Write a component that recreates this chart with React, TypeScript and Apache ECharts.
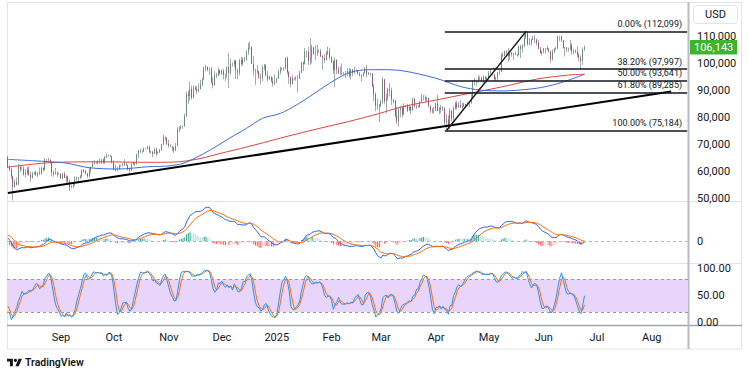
import React, { useEffect, useRef } from 'react';
import * as echarts from 'echarts';

const FONT = 'Roboto, "Noto Sans", "DejaVu Sans", sans-serif';
const TEXT = '#131722';
const START_DATE = '2024-08-02';
const CATEGORY_COUNT = 385;
const MONTHS = ['Jan', 'Feb', 'Mar', 'Apr', 'May', 'Jun', 'Jul', 'Aug', 'Sep', 'Oct', 'Nov', 'Dec'];

// Prices in thousand USD. Warm-up days (Jul 19 - Aug 1 2024) only feed the indicators.
const warmClose = [66.7, 67.2, 68.2, 67.6, 65.9, 65.4, 65.8, 68.0, 67.9, 68.3, 66.8, 66.2, 64.6, 65.4];
const warmHigh = [67.4, 67.7, 68.4, 68.5, 67.8, 67.1, 66.1, 68.2, 69.4, 68.3, 70.0, 66.9, 66.8, 65.6];
const warmLow = [63.3, 66.6, 65.8, 66.6, 65.5, 65.1, 63.5, 65.8, 66.8, 67.0, 66.6, 65.4, 64.5, 62.3];

// Daily candles from 2024-08-02 to 2025-06-24 (open = previous close)
const closeK = [
  // Aug
  61.4, 60.7, 58.1, 54.0, 56.0, 55.0, 61.7, 60.9, 60.9, 58.7, 59.4, 60.6, 58.7, 57.6, 58.9, 59.5, 58.5, 59.5, 59.0, 61.2, 60.4, 64.1, 64.2, 64.3, 62.9, 59.5, 59.0, 59.4, 59.1, 59.0,
  // Sep
  57.3, 59.1, 57.5, 58.0, 56.2, 54.0, 54.2, 54.9, 57.0, 57.7, 57.3, 58.1, 60.6, 60.0, 59.2, 58.2, 60.3, 61.6, 62.9, 63.2, 63.3, 63.6, 63.3, 64.3, 63.2, 65.2, 65.8, 65.9, 65.6, 63.3,
  // Oct
  60.8, 60.6, 60.8, 62.1, 62.1, 62.8, 62.2, 62.2, 60.6, 60.3, 62.5, 63.2, 62.9, 66.1, 67.6, 67.4, 67.4, 68.4, 68.4, 69.0, 67.4, 67.4, 66.4, 68.2, 66.6, 67.0, 67.9, 69.9, 72.7, 72.3, 70.2,
  // Nov
  69.5, 69.3, 68.7, 67.8, 69.4, 75.6, 75.9, 76.5, 76.8, 80.5, 88.7, 88.0, 90.6, 87.3, 91.1, 90.6, 89.8, 90.5, 92.3, 94.3, 98.3, 98.9, 97.7, 97.9, 93.0, 92.0, 95.9, 95.6, 97.5, 96.4,
  // Dec
  97.3, 95.9, 96.0, 98.8, 96.6, 99.9, 99.9, 101.2, 97.4, 96.7, 101.2, 100.0, 101.5, 101.4, 104.3, 106.0, 106.1, 100.0, 97.5, 97.8, 97.2, 95.1, 94.7, 98.7, 99.3, 95.8, 94.2, 95.2, 93.5, 92.6, 93.4,
  // Jan
  94.4, 96.9, 98.1, 98.2, 98.3, 102.1, 96.9, 95.0, 92.5, 94.7, 94.6, 94.5, 94.5, 96.5, 100.5, 99.8, 104.5, 104.4, 101.1, 102.0, 106.1, 103.7, 104.0, 104.8, 104.7, 102.7, 102.1, 101.3, 103.7, 104.7, 102.4,
  // Feb
  100.7, 97.7, 101.4, 97.9, 96.6, 96.6, 96.5, 96.5, 96.5, 97.4, 95.7, 97.9, 96.6, 97.5, 97.6, 96.2, 95.8, 95.5, 96.6, 98.3, 96.1, 96.6, 96.3, 91.4, 88.7, 84.3, 84.7, 84.4,
  // Mar
  86.0, 94.2, 86.1, 87.2, 90.6, 90.0, 86.7, 86.2, 80.6, 78.5, 82.9, 83.7, 81.1, 84.0, 84.3, 82.6, 84.1, 82.7, 86.9, 84.2, 84.0, 83.8, 86.1, 87.5, 87.5, 86.9, 87.2, 84.4, 82.6, 82.3, 82.5,
  // Apr
  85.2, 82.5, 83.1, 83.8, 83.5, 78.2, 79.2, 76.3, 82.6, 79.6, 83.4, 85.3, 83.7, 84.5, 83.7, 84.0, 84.9, 84.5, 85.1, 85.2, 87.5, 93.4, 93.7, 93.9, 94.7, 94.6, 93.8, 95.0, 94.3, 94.2,
  // May
  96.5, 96.9, 95.9, 94.3, 94.7, 96.8, 97.0, 103.2, 103.0, 104.7, 104.1, 102.8, 104.2, 103.5, 103.7, 103.5, 103.2, 106.4, 105.6, 106.8, 109.7, 111.7, 107.3, 107.8, 109.0, 109.4, 109.0, 107.8, 105.6, 104.0, 104.6,
  // Jun
  105.7, 105.9, 105.4, 104.7, 101.6, 104.4, 105.6, 105.8, 110.3, 110.3, 108.7, 105.9, 106.1, 105.5, 105.6, 106.8, 104.6, 104.9, 104.6, 103.3, 102.3, 101.0, 105.4, 106.143,
];
const highK = [
  65.6, 62.2, 61.1, 58.3, 57.0, 57.7, 62.7, 61.8, 61.5, 61.8, 60.7, 61.6, 61.8, 59.8, 59.8, 59.7, 60.2, 59.6, 61.4, 61.8, 61.4, 64.9, 64.5, 65.0, 64.4, 63.2, 60.2, 61.2, 59.9, 59.4,
  59.1, 59.4, 59.8, 58.5, 58.3, 56.9, 54.8, 55.3, 58.1, 58.0, 57.9, 58.6, 60.6, 60.6, 60.4, 59.2, 61.3, 61.8, 63.9, 64.1, 63.6, 64.0, 64.7, 64.6, 64.8, 65.8, 66.5, 66.3, 66.0, 65.6,
  64.1, 62.4, 61.5, 62.5, 62.4, 62.9, 64.5, 63.2, 62.5, 61.3, 63.4, 63.5, 63.3, 66.5, 67.9, 68.4, 67.9, 68.9, 68.7, 69.4, 69.5, 67.8, 67.4, 68.8, 68.8, 67.3, 68.3, 70.2, 73.6, 72.9, 72.7,
  71.6, 70.0, 69.4, 69.0, 70.5, 76.4, 76.8, 77.2, 76.9, 81.5, 89.6, 89.9, 93.4, 91.8, 91.9, 91.8, 91.7, 92.6, 94.0, 94.9, 99.0, 99.6, 98.8, 98.6, 98.8, 94.9, 97.4, 96.6, 98.7, 97.9,
  97.9, 98.2, 96.3, 99.0, 104.1, 101.9, 100.5, 101.4, 101.3, 98.3, 101.9, 102.5, 102.5, 102.6, 105.1, 107.8, 108.3, 106.5, 102.8, 98.1, 99.5, 97.3, 96.4, 99.4, 99.9, 99.9, 97.3, 95.5, 95.2, 94.9, 96.1,
  94.9, 97.8, 98.9, 98.7, 98.8, 102.5, 102.7, 97.3, 95.3, 95.8, 94.9, 95.4, 95.8, 97.4, 100.7, 100.8, 105.9, 104.9, 106.3, 109.6, 107.1, 106.3, 106.8, 107.1, 105.3, 105.5, 103.2, 103.7, 104.8, 106.4, 106.0,
  102.8, 101.4, 102.4, 101.7, 99.0, 99.0, 100.1, 96.9, 97.3, 98.3, 98.5, 98.1, 98.0, 98.8, 97.9, 97.7, 97.0, 96.0, 96.9, 98.7, 99.5, 96.9, 96.5, 96.5, 92.5, 89.3, 87.0, 85.0,
  86.5, 95.0, 94.4, 88.9, 91.0, 92.8, 91.2, 86.8, 86.5, 83.9, 83.6, 84.3, 84.3, 85.3, 84.7, 85.1, 84.7, 84.1, 87.4, 87.4, 84.8, 84.5, 86.1, 88.7, 88.4, 88.3, 87.7, 87.4, 84.5, 83.5, 83.9,
  85.5, 88.5, 83.9, 84.7, 84.2, 83.8, 81.2, 80.8, 83.5, 82.7, 84.2, 85.9, 86.1, 85.8, 86.4, 85.5, 85.5, 85.1, 85.6, 85.3, 88.9, 93.9, 94.7, 94.0, 95.8, 95.3, 95.2, 95.6, 95.5, 95.2,
  97.4, 97.9, 96.9, 96.3, 95.2, 96.9, 97.7, 104.0, 104.3, 104.9, 104.9, 105.8, 104.9, 104.3, 104.1, 104.5, 103.7, 106.7, 107.1, 107.3, 110.8, 112.099, 111.9, 109.5, 109.3, 110.4, 110.7, 109.3, 108.9, 106.3, 104.9,
  105.9, 105.9, 106.8, 105.9, 105.0, 105.4, 105.9, 106.4, 110.5, 110.4, 110.4, 108.8, 106.2, 106.2, 106.0, 108.9, 107.7, 105.5, 105.3, 106.5, 104.0, 103.1, 106.1, 106.8,
];
const lowK = [
  61.2, 59.9, 57.2, 49.1, 53.9, 54.6, 54.8, 59.6, 60.3, 58.4, 57.7, 58.5, 58.4, 56.1, 57.2, 58.8, 58.4, 57.8, 58.6, 58.8, 59.8, 60.4, 63.6, 63.8, 62.8, 58.1, 57.9, 58.8, 57.8, 58.7,
  57.2, 57.1, 57.4, 55.6, 55.7, 52.6, 53.7, 53.7, 54.6, 56.4, 55.5, 57.3, 57.6, 59.4, 58.7, 57.5, 57.6, 59.2, 61.6, 62.4, 62.8, 62.4, 62.7, 62.7, 62.8, 62.7, 64.9, 65.4, 65.4, 62.9,
  60.3, 59.9, 59.9, 60.5, 61.7, 61.8, 62.1, 61.9, 60.3, 58.9, 60.1, 62.4, 61.9, 62.4, 64.8, 66.8, 66.7, 67.2, 68.1, 68.1, 66.7, 66.6, 65.2, 66.4, 65.5, 66.5, 66.8, 67.6, 69.7, 71.4, 69.7,
  68.8, 69.0, 67.5, 66.8, 67.5, 69.3, 74.5, 75.6, 75.8, 76.5, 80.2, 85.1, 86.3, 86.7, 87.1, 90.1, 88.7, 89.4, 90.9, 91.6, 94.0, 97.2, 97.2, 95.8, 92.7, 90.8, 91.8, 94.6, 95.4, 96.1,
  95.7, 94.2, 93.6, 94.7, 91.0, 95.9, 99.0, 98.7, 94.3, 94.2, 95.7, 99.3, 99.2, 100.6, 101.2, 103.3, 105.3, 100.0, 95.6, 92.2, 96.4, 94.2, 92.4, 93.4, 97.6, 95.2, 93.5, 94.0, 93.1, 91.4, 92.0,
  92.8, 94.3, 96.1, 97.6, 97.3, 97.9, 96.1, 92.5, 91.2, 92.2, 93.8, 93.7, 89.3, 94.3, 96.5, 97.3, 99.9, 102.3, 99.5, 99.6, 100.1, 103.3, 101.3, 102.8, 104.1, 102.5, 97.8, 100.3, 101.3, 103.3, 101.6,
  100.3, 96.2, 91.2, 96.2, 96.2, 95.7, 95.7, 95.7, 94.7, 95.3, 94.8, 94.1, 95.3, 96.3, 97.2, 96.0, 95.2, 93.4, 95.2, 96.4, 94.9, 95.8, 95.3, 91.3, 86.1, 82.3, 82.8, 78.3,
  83.8, 85.1, 85.1, 81.5, 86.3, 87.9, 84.7, 85.3, 80.0, 77.5, 76.6, 80.1, 79.9, 80.8, 83.7, 82.0, 82.5, 81.2, 82.5, 83.7, 83.2, 83.7, 83.8, 85.6, 86.3, 85.9, 85.8, 83.6, 81.6, 81.6, 81.3,
  82.4, 82.3, 81.2, 81.7, 82.4, 77.2, 75.184, 76.2, 75.6, 78.5, 78.9, 82.9, 83.0, 83.8, 83.6, 83.1, 83.9, 84.1, 84.3, 83.9, 85.2, 87.5, 91.9, 91.7, 92.9, 93.9, 93.6, 92.9, 93.9, 92.9,
  94.1, 96.2, 95.7, 94.0, 93.5, 93.4, 95.8, 96.9, 102.3, 102.8, 103.4, 100.8, 101.4, 102.6, 101.4, 103.1, 102.6, 103.1, 102.1, 104.2, 106.1, 109.3, 106.8, 106.9, 106.7, 108.8, 107.6, 106.8, 105.3, 103.7, 103.1,
  103.9, 103.7, 105.0, 104.2, 100.4, 101.1, 103.9, 105.1, 105.3, 108.4, 108.1, 105.7, 102.7, 104.3, 104.5, 104.9, 103.4, 103.6, 103.9, 102.4, 100.8, 98.0, 99.6, 104.7,
];

// Moving averages (thousand USD)
const sma100Dates = ['2024-08-02', '2024-08-16', '2024-08-26', '2024-09-04', '2024-09-17', '2024-10-03', '2024-10-21', '2024-10-31', '2024-11-09', '2024-11-18', '2024-11-26', '2024-12-05', '2024-12-15', '2024-12-24', '2025-01-03', '2025-01-12', '2025-01-21', '2025-01-31', '2025-02-10', '2025-02-19', '2025-02-28', '2025-03-13', '2025-04-01', '2025-04-15', '2025-04-26', '2025-05-09', '2025-05-18', '2025-05-28', '2025-06-06', '2025-06-15', '2025-06-24'];
const sma100Values = [64.4, 63.9, 63.5, 63.0, 61.3, 60.8, 61.7, 61.9, 62.9, 65.6, 68.5, 72.2, 76.0, 79.7, 81.5, 84.6, 88.4, 92.8, 96.4, 97.7, 97.8, 97.4, 94.6, 91.5, 90.2, 89.9, 90.2, 90.9, 92.1, 93.9, 96.1];
const sma200Dates = ['2024-08-02', '2024-08-26', '2024-09-23', '2024-10-21', '2024-11-04', '2024-11-18', '2024-11-30', '2024-12-15', '2025-01-03', '2025-01-21', '2025-02-10', '2025-02-28', '2025-03-13', '2025-04-01', '2025-04-20', '2025-05-09', '2025-05-28', '2025-06-15', '2025-06-24'];
const sma200Values = [61.5, 63.2, 63.5, 63.3, 63.4, 64.6, 66.6, 69.0, 72.3, 75.3, 78.4, 81.5, 84.0, 86.5, 89.0, 91.5, 94.3, 95.8, 96.1];

// Drawings
const fibStartDate = '2025-04-06';
const fibEndDate = '2025-08-21';
const fibPercents = ['0.00%', '38.20%', '50.00%', '61.80%', '100.00%'];
const fibValues = [112099, 97997, 93641, 89285, 75184];
const longTrendDates = ['2024-08-02', '2025-08-12'];
const longTrendValues = [51860, 89660];
const swingTrendDates = ['2025-04-07', '2025-05-22'];
const swingTrendValues = [75184, 112099];

// Axis ticks
const priceTicks = [50000, 60000, 70000, 80000, 90000, 100000, 110000];
const macdTicks = [0];
const stochTicks = [0, 50, 100];
const stochBands = [20, 80];

// Indicator seeds (state before the warm-up window)
const EMA12_SEED = 62800;
const EMA26_SEED = 61700;
const SIGNAL_SEED = 600;

const PRICE_MIN = 48900;
const PRICE_MAX = 123000;
const STOCH_MIN = -3.9;
const STOCH_MAX = 110;

const dates: string[] = (() => {
  const out: string[] = [];
  const t0 = Date.parse(START_DATE + 'T00:00:00Z');
  for (let i = 0; i < CATEGORY_COUNT; i++) out.push(new Date(t0 + i * 86400000).toISOString().slice(0, 10));
  return out;
})();
const idx = (d: string) => dates.indexOf(d);
const fmt = (v: number) => Math.round(v).toLocaleString('en-US');

let logoRegistered = false;
function registerLogo() {
  if (logoRegistered) return;
  echarts.graphic.registerShape(
    'tvlogo',
    echarts.graphic.extendPath('M14 22H7V11H0V4h14v18zM28 22h-8l7.5-18h8L28 22z', {}) as any
  );
  logoRegistered = true;
}

function buildOption() {
  const n = closeK.length;
  const candles = closeK.map((c, i) => {
    const o = (i === 0 ? warmClose[warmClose.length - 1] : closeK[i - 1]) * 1000;
    const cl = c * 1000;
    const h = Math.max(highK[i] * 1000, o, cl);
    const l = Math.min(lowK[i] * 1000, o, cl);
    return { o, c: cl, h, l };
  });
  const wickData = candles.map((k) => [k.o, k.c, k.l, k.h]);
  const bodyData = candles.map((k) => [k.o, k.c, Math.min(k.o, k.c), Math.max(k.o, k.c)]);

  const W = warmClose.length;
  const allClose = [...warmClose, ...closeK].map((v) => v * 1000);
  const allHigh = [...warmHigh.map((v) => v * 1000), ...candles.map((k) => k.h)];
  const allLow = [...warmLow.map((v) => v * 1000), ...candles.map((k) => k.l)];

  const ema = (vals: number[], len: number, seed: number) => {
    const k = 2 / (len + 1);
    let e = seed;
    return vals.map((v) => (e = v * k + e * (1 - k)));
  };
  const e12 = ema(allClose, 12, EMA12_SEED);
  const e26 = ema(allClose, 26, EMA26_SEED);
  const macdAll = e12.map((v, i) => v - e26[i]);
  const sigAll = ema(macdAll, 9, SIGNAL_SEED);
  const macd = macdAll.slice(W);
  const signal = sigAll.slice(W);
  const hist = macd.map((v, i) => v - signal[i]);
  const histData = hist.map((h, i) => {
    const prev = i > 0 ? hist[i - 1] : h;
    const color = h >= 0 ? (h >= prev ? '#26a69a' : '#b2dfdb') : h < prev ? '#ff5252' : '#ffcdd2';
    return { value: h, itemStyle: { color } };
  });
  const mMax = Math.max(...macd, ...signal);
  const macdMax = (mMax * 40.3) / 34;
  const macdMin = (-mMax * 21.7) / 34;

  const rawK = allClose.map((c, i) => {
    let hh = -Infinity;
    let ll = Infinity;
    for (let j = Math.max(0, i - 13); j <= i; j++) {
      hh = Math.max(hh, allHigh[j]);
      ll = Math.min(ll, allLow[j]);
    }
    return hh === ll ? 50 : (100 * (c - ll)) / (hh - ll);
  });
  const sma = (arr: number[], len: number) =>
    arr.map((_, i) => {
      const s = Math.max(0, i - len + 1);
      let sum = 0;
      for (let j = s; j <= i; j++) sum += arr[j];
      return sum / (i - s + 1);
    });
  const kAll = sma(rawK, 3);
  const dAll = sma(kAll, 3);
  const stochK = kAll.slice(W);
  const stochD = dAll.slice(W);

  const lastClose = candles[n - 1].c;

  const xAxisBase = {
    type: 'category' as const,
    data: dates,
    boundaryGap: true,
    axisLine: { show: false },
    axisTick: { show: false },
    splitLine: { show: false },
  };
  const yLabel = { color: TEXT, fontSize: 11, fontFamily: FONT, margin: 9 };

  return {
    animation: false,
    backgroundColor: '#ffffff',
    textStyle: { fontFamily: FONT },
    grid: [
      { left: 7, top: 2, width: 681, height: 199 },
      { left: 7, top: 201, width: 681, height: 62 },
      { left: 7, top: 263, width: 681, height: 62 },
    ],
    xAxis: [
      { ...xAxisBase, gridIndex: 0, axisLabel: { show: false } },
      { ...xAxisBase, gridIndex: 1, axisLabel: { show: false } },
      {
        ...xAxisBase,
        gridIndex: 2,
        axisLabel: {
          show: true,
          interval: (_i: number, v: string) => v.endsWith('-01'),
          formatter: (v: string) => {
            const [y, m] = v.split('-');
            return m === '01' ? y : MONTHS[Number(m) - 1];
          },
          color: TEXT,
          fontSize: 11,
          fontFamily: FONT,
          margin: 7,
          hideOverlap: false,
        },
      },
    ],
    yAxis: [
      {
        type: 'value', gridIndex: 0, position: 'right', min: PRICE_MIN, max: PRICE_MAX,
        splitLine: { show: false }, axisLine: { show: false }, axisTick: { show: false },
        axisLabel: { ...yLabel, customValues: priceTicks, formatter: (v: number) => fmt(v) },
      },
      {
        type: 'value', gridIndex: 1, position: 'right', min: macdMin, max: macdMax,
        splitLine: { show: false }, axisLine: { show: false }, axisTick: { show: false },
        axisLabel: { ...yLabel, customValues: macdTicks, formatter: (v: number) => String(Math.round(v)) },
      },
      {
        type: 'value', gridIndex: 2, position: 'right', min: STOCH_MIN, max: STOCH_MAX,
        splitLine: { show: false }, axisLine: { show: false }, axisTick: { show: false },
        axisLabel: { ...yLabel, customValues: stochTicks, formatter: (v: number) => v.toFixed(2) },
      },
    ],
    series: [
      {
        name: 'SMA 200', type: 'line', xAxisIndex: 0, yAxisIndex: 0, symbol: 'none', smooth: 0.3,
        lineStyle: { color: '#e0443e', width: 1 },
        data: sma200Dates.map((d, i) => [idx(d), sma200Values[i] * 1000]),
      },
      {
        name: 'SMA 100', type: 'line', xAxisIndex: 0, yAxisIndex: 0, symbol: 'none', smooth: 0.3,
        lineStyle: { color: '#3d6be0', width: 1 },
        data: sma100Dates.map((d, i) => [idx(d), sma100Values[i] * 1000]),
      },
      {
        name: 'wicks', type: 'candlestick', xAxisIndex: 0, yAxisIndex: 0, barWidth: 1,
        itemStyle: { color: '#a7aab2', color0: '#a7aab2', borderColor: '#a7aab2', borderColor0: '#a7aab2', borderWidth: 1 },
        data: wickData,
      },
      {
        name: 'bodies', type: 'candlestick', xAxisIndex: 0, yAxisIndex: 0, barWidth: '72%',
        itemStyle: { color: '#2e7d32', color0: '#880e4f', borderColor: '#2e7d32', borderColor0: '#880e4f', borderWidth: 0.5 },
        data: bodyData,
        markLine: {
          symbol: 'none', silent: true,
          lineStyle: { color: TEXT, width: 1.5, type: 'solid' },
          label: {
            position: 'insideEndTop', distance: [5, 3], formatter: '{b}',
            color: TEXT, fontSize: 9, fontFamily: FONT,
          },
          data: [
            ...fibValues.map((v, i) => [
              { name: `${fibPercents[i]} (${fmt(v)})`, coord: [idx(fibStartDate), v] },
              { coord: [idx(fibEndDate), v] },
            ]),
            {
              yAxis: lastClose,
              name: fmt(lastClose),
              lineStyle: { color: 'rgba(0,0,0,0)', width: 0 },
              label: {
                position: 'end', distance: 2, formatter: '{b}',
                backgroundColor: '#3ab52c', color: '#ffffff', fontSize: 11, fontFamily: FONT,
                padding: [2, 4, 1, 4], lineHeight: 11.5,
              },
            },
          ],
        },
      },
      {
        name: 'long trend', type: 'line', xAxisIndex: 0, yAxisIndex: 0, symbol: 'none',
        lineStyle: { color: '#000000', width: 2 },
        data: longTrendDates.map((d, i) => [idx(d), longTrendValues[i]]),
      },
      {
        name: 'swing', type: 'line', xAxisIndex: 0, yAxisIndex: 0, symbol: 'none',
        lineStyle: { color: '#1b1b1b', width: 1.5 },
        data: swingTrendDates.map((d, i) => [idx(d), swingTrendValues[i]]),
      },
      {
        name: 'hist', type: 'bar', xAxisIndex: 1, yAxisIndex: 1, barWidth: 1,
        data: histData,
        markLine: {
          symbol: 'none', silent: true, label: { show: false },
          lineStyle: { color: '#b2b5be', width: 1, type: [3, 3] },
          data: [{ yAxis: 0 }],
        },
      },
      {
        name: 'MACD', type: 'line', xAxisIndex: 1, yAxisIndex: 1, symbol: 'none',
        lineStyle: { color: '#2962ff', width: 1 }, data: macd,
      },
      {
        name: 'Signal', type: 'line', xAxisIndex: 1, yAxisIndex: 1, symbol: 'none',
        lineStyle: { color: '#ff6d00', width: 1 }, data: signal,
      },
      {
        name: '%D', type: 'line', xAxisIndex: 2, yAxisIndex: 2, symbol: 'none',
        lineStyle: { color: '#ff6d00', width: 1 }, data: stochD,
        markArea: {
          silent: true,
          itemStyle: { color: '#e9d4fb' },
          data: [[{ yAxis: stochBands[0] }, { yAxis: stochBands[1] }]],
        },
        markLine: {
          symbol: 'none', silent: true, label: { show: false },
          lineStyle: { color: '#9598a1', width: 1, type: [3, 3] },
          data: stochBands.map((b) => ({ yAxis: b })),
        },
      },
      {
        name: '%K', type: 'line', xAxisIndex: 2, yAxisIndex: 2, symbol: 'none',
        lineStyle: { color: '#2196f3', width: 1 }, data: stochK,
      },
    ],
    graphic: [
      { type: 'rect', silent: true, shape: { x: 7.5, y: 2.5, width: 734, height: 346.5 }, style: { fill: 'none', stroke: '#e0e3eb', lineWidth: 1 } },
      { type: 'line', silent: true, shape: { x1: 7, y1: 201.5, x2: 742, y2: 201.5 }, style: { stroke: '#e0e3eb', lineWidth: 1 } },
      { type: 'line', silent: true, shape: { x1: 7, y1: 263.5, x2: 742, y2: 263.5 }, style: { stroke: '#e0e3eb', lineWidth: 1 } },
      { type: 'line', silent: true, shape: { x1: 7, y1: 325.5, x2: 742, y2: 325.5 }, style: { stroke: '#a3a6af', lineWidth: 1.5 } },
      { type: 'line', silent: true, shape: { x1: 688.5, y1: 2, x2: 688.5, y2: 349 }, style: { stroke: '#b8bbc3', lineWidth: 2 } },
      { type: 'rect', silent: true, shape: { x: 693.5, y: 5.5, width: 44, height: 18, r: 3 }, style: { fill: '#ffffff', stroke: '#e0e3eb', lineWidth: 1 } },
      { type: 'text', silent: true, x: 715.5, y: 14.5, style: { text: 'USD', fill: TEXT, font: `11px ${FONT}`, align: 'center', verticalAlign: 'middle' } },
      { type: 'tvlogo', silent: true, x: 7, y: 357, scaleX: 0.42, scaleY: 0.42, style: { fill: TEXT } },
      { type: 'circle', silent: true, shape: { cx: 7 + 20 * 0.42, cy: 357 + 8 * 0.42, r: 4 * 0.42 }, style: { fill: TEXT } },
      { type: 'text', silent: true, x: 25, y: 362.5, style: { text: 'TradingView', fill: TEXT, font: `600 10.5px ${FONT}`, verticalAlign: 'middle' } },
    ],
  };
}

export default function App() {
  const ref = useRef<HTMLDivElement>(null);
  useEffect(() => {
    if (!ref.current) return;
    registerLogo();
    const chart = echarts.init(ref.current, undefined, { renderer: 'svg' });
    chart.setOption(buildOption() as any);
    return () => chart.dispose();
  }, []);
  return (
    <div
      ref={ref}
      style={{ position: 'fixed', left: 0, top: 0, width: 749, height: 375, background: '#ffffff' }}
    />
  );
}
